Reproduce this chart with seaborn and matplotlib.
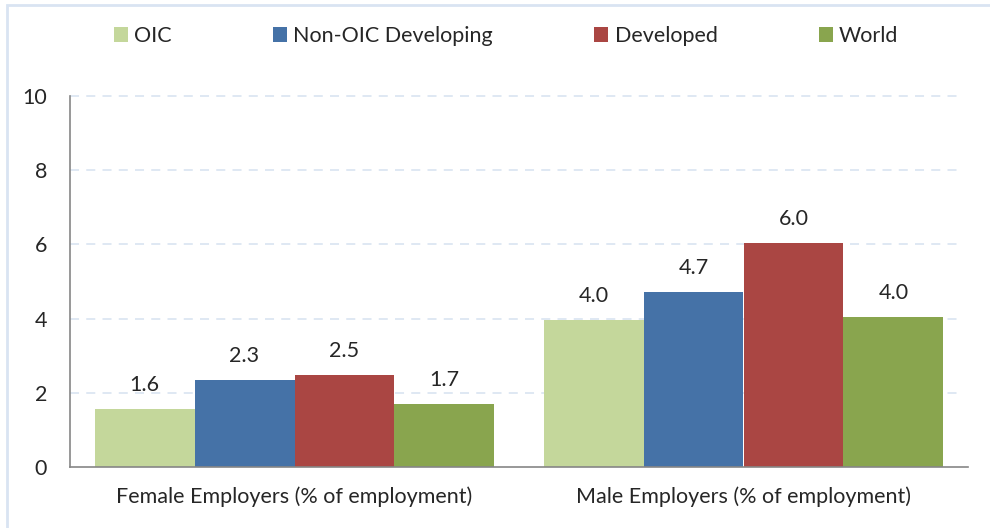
import matplotlib
matplotlib.use("Agg")
import matplotlib.pyplot as plt
from matplotlib.patches import Rectangle
import seaborn as sns
import pandas as pd

categories = ["Female Employers (% of employment)", "Male Employers (% of employment)"]
groups = ["OIC", "Non-OIC Developing", "Developed", "World"]
oic = [1.56, 3.96]
non_oic = [2.34, 4.72]
developed = [2.48, 6.05]
world = [1.70, 4.04]
yticks = [0, 2, 4, 6, 8, 10]

colors = ["#c4d79b", "#4572a7", "#aa4643", "#89a54e"]

rows = []
for g, vals in zip(groups, [oic, non_oic, developed, world]):
    for c, v in zip(categories, vals):
        rows.append({"category": c, "group": g, "value": v})
df = pd.DataFrame(rows)

sns.set_style("white")
plt.rcParams["font.family"] = ["Lato", "DejaVu Sans"]
text_color = "#262626"
axis_color = "#868686"
fs = 15.5

fig = plt.figure(figsize=(9.9, 5.28), dpi=100)
ax = fig.add_axes([70 / 990, 61 / 528, 898 / 990, 371 / 528])

sns.barplot(data=df, x="category", y="value", hue="group", order=categories,
            hue_order=groups, palette=colors, width=0.89, gap=0, dodge=True,
            saturation=1, ax=ax, errorbar=None, linewidth=0)

for cont in ax.containers:
    ax.bar_label(cont, fmt="%.1f", padding=10, fontsize=fs, color=text_color)

ax.set_xlim(-0.5, 1.5)
ax.set_ylim(0, 10)
ax.set_yticks(yticks)
ax.set_yticklabels([str(t) for t in yticks], fontsize=fs, color=text_color)
ax.set_xlabel("")
ax.set_ylabel("")

# dashed horizontal gridlines
for t in yticks[1:]:
    ax.plot([-0.5, 1.48], [t, t], color="#dce6f2", lw=1.3, ls=(0, (5, 4)),
            zorder=0, clip_on=False)

# category labels centred under each group, ticks at group boundaries
ax.set_xticks([-0.5, 0.5, 1.5])
ax.set_xticklabels([])
ax.set_xticks([0, 1], minor=True)
ax.set_xticklabels(categories, minor=True, fontsize=fs, color=text_color)
ax.tick_params(axis="x", which="minor", length=0, pad=14)
ax.tick_params(axis="x", which="major", length=6, width=1.2, color=axis_color,
               direction="out")
ax.tick_params(axis="y", length=6, width=1.2, color=axis_color,
               direction="out", pad=10.5)

for side in ["top", "right"]:
    ax.spines[side].set_visible(False)
for side in ["left", "bottom"]:
    ax.spines[side].set_color(axis_color)
    ax.spines[side].set_linewidth(1.2)

handles, labels = ax.get_legend_handles_labels()
ax.legend(handles, labels, ncol=4, loc="center", bbox_to_anchor=(506 / 990, 1 - 36 / 528),
          bbox_transform=fig.transFigure, frameon=False, fontsize=fs,
          handlelength=0.65, handleheight=0.65, handletextpad=0.3,
          columnspacing=4.7, labelcolor=text_color)

# outer chart frame
fig.patches.append(Rectangle((7 / 990, -0.05), 1.1, 1 - 5 / 528 + 0.05,
                             transform=fig.transFigure, fill=False,
                             edgecolor="#d9e4f2", lw=2, zorder=-1))

fig.savefig("out.png", dpi=100, facecolor="white")
